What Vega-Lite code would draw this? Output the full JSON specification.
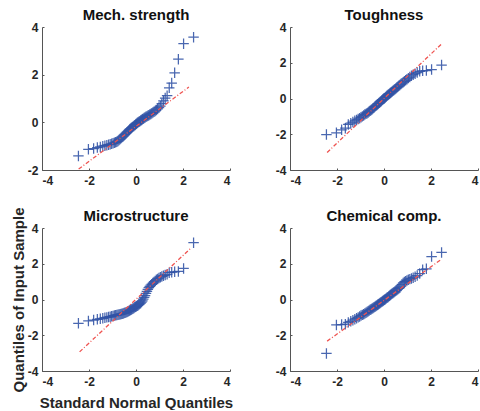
{
  "$schema": "https://vega.github.io/schema/vega-lite/v6.json",
  "padding": {"left": 11, "top": 8, "right": 0, "bottom": 0},
  "background": "white",
  "datasets": {
    "mech": [
      {"x": -2.450, "y": -1.41}, {"x": -2.025, "y": -1.13}, {"x": -1.803, "y": -1.10}, {"x": -1.645, "y": -1.06}, {"x": -1.519, "y": -1.03},
      {"x": -1.414, "y": -1.00}, {"x": -1.324, "y": -0.98}, {"x": -1.242, "y": -0.96}, {"x": -1.168, "y": -0.94}, {"x": -1.099, "y": -0.92},
      {"x": -1.036, "y": -0.90}, {"x": -0.977, "y": -0.88}, {"x": -0.921, "y": -0.86}, {"x": -0.867, "y": -0.84}, {"x": -0.816, "y": -0.81},
      {"x": -0.767, "y": -0.78}, {"x": -0.720, "y": -0.74}, {"x": -0.674, "y": -0.70}, {"x": -0.630, "y": -0.66}, {"x": -0.587, "y": -0.62},
      {"x": -0.545, "y": -0.58}, {"x": -0.504, "y": -0.54}, {"x": -0.464, "y": -0.50}, {"x": -0.424, "y": -0.46}, {"x": -0.385, "y": -0.42},
      {"x": -0.347, "y": -0.38}, {"x": -0.309, "y": -0.34}, {"x": -0.272, "y": -0.30}, {"x": -0.235, "y": -0.27}, {"x": -0.198, "y": -0.24},
      {"x": -0.162, "y": -0.21}, {"x": -0.126, "y": -0.18}, {"x": -0.090, "y": -0.15}, {"x": -0.054, "y": -0.12}, {"x": -0.018, "y": -0.09},
      {"x": 0.018, "y": -0.06}, {"x": 0.054, "y": -0.03}, {"x": 0.090, "y": 0.00}, {"x": 0.126, "y": 0.02}, {"x": 0.162, "y": 0.05},
      {"x": 0.198, "y": 0.08}, {"x": 0.235, "y": 0.10}, {"x": 0.272, "y": 0.13}, {"x": 0.309, "y": 0.15}, {"x": 0.347, "y": 0.18},
      {"x": 0.385, "y": 0.20}, {"x": 0.424, "y": 0.23}, {"x": 0.464, "y": 0.25}, {"x": 0.504, "y": 0.28}, {"x": 0.545, "y": 0.30},
      {"x": 0.587, "y": 0.33}, {"x": 0.630, "y": 0.35}, {"x": 0.674, "y": 0.38}, {"x": 0.720, "y": 0.41}, {"x": 0.767, "y": 0.44},
      {"x": 0.816, "y": 0.48}, {"x": 0.867, "y": 0.52}, {"x": 0.921, "y": 0.56}, {"x": 0.977, "y": 0.62}, {"x": 1.036, "y": 0.68},
      {"x": 1.099, "y": 0.78}, {"x": 1.168, "y": 0.90}, {"x": 1.242, "y": 1.02}, {"x": 1.324, "y": 1.12}, {"x": 1.414, "y": 1.45},
      {"x": 1.519, "y": 1.65}, {"x": 1.645, "y": 2.08}, {"x": 1.803, "y": 2.65}, {"x": 2.025, "y": 3.30}, {"x": 2.450, "y": 3.57}
    ],
    "tough": [
      {"x": -2.450, "y": -2.02}, {"x": -2.025, "y": -1.92}, {"x": -1.803, "y": -1.75}, {"x": -1.645, "y": -1.66}, {"x": -1.519, "y": -1.45},
      {"x": -1.414, "y": -1.38}, {"x": -1.324, "y": -1.32}, {"x": -1.242, "y": -1.25}, {"x": -1.168, "y": -1.20}, {"x": -1.099, "y": -1.15},
      {"x": -1.036, "y": -1.10}, {"x": -0.977, "y": -1.05}, {"x": -0.921, "y": -1.00}, {"x": -0.867, "y": -0.95}, {"x": -0.816, "y": -0.90},
      {"x": -0.767, "y": -0.86}, {"x": -0.720, "y": -0.82}, {"x": -0.674, "y": -0.78}, {"x": -0.630, "y": -0.73}, {"x": -0.587, "y": -0.68},
      {"x": -0.545, "y": -0.64}, {"x": -0.504, "y": -0.60}, {"x": -0.464, "y": -0.55}, {"x": -0.424, "y": -0.50}, {"x": -0.385, "y": -0.45},
      {"x": -0.347, "y": -0.41}, {"x": -0.309, "y": -0.37}, {"x": -0.272, "y": -0.32}, {"x": -0.235, "y": -0.28}, {"x": -0.198, "y": -0.24},
      {"x": -0.162, "y": -0.19}, {"x": -0.126, "y": -0.15}, {"x": -0.090, "y": -0.10}, {"x": -0.054, "y": -0.06}, {"x": -0.018, "y": -0.02},
      {"x": 0.018, "y": 0.02}, {"x": 0.054, "y": 0.06}, {"x": 0.090, "y": 0.10}, {"x": 0.126, "y": 0.15}, {"x": 0.162, "y": 0.19},
      {"x": 0.198, "y": 0.23}, {"x": 0.235, "y": 0.27}, {"x": 0.272, "y": 0.31}, {"x": 0.309, "y": 0.35}, {"x": 0.347, "y": 0.39},
      {"x": 0.385, "y": 0.43}, {"x": 0.424, "y": 0.47}, {"x": 0.464, "y": 0.52}, {"x": 0.504, "y": 0.56}, {"x": 0.545, "y": 0.61},
      {"x": 0.587, "y": 0.66}, {"x": 0.630, "y": 0.71}, {"x": 0.674, "y": 0.76}, {"x": 0.720, "y": 0.81}, {"x": 0.767, "y": 0.86},
      {"x": 0.816, "y": 0.91}, {"x": 0.867, "y": 0.96}, {"x": 0.921, "y": 1.02}, {"x": 0.977, "y": 1.08}, {"x": 1.036, "y": 1.14},
      {"x": 1.099, "y": 1.20}, {"x": 1.168, "y": 1.27}, {"x": 1.242, "y": 1.33}, {"x": 1.324, "y": 1.39}, {"x": 1.414, "y": 1.45},
      {"x": 1.519, "y": 1.52}, {"x": 1.645, "y": 1.55}, {"x": 1.803, "y": 1.56}, {"x": 2.025, "y": 1.62}, {"x": 2.450, "y": 1.87}
    ],
    "micro": [
      {"x": -2.450, "y": -1.33}, {"x": -2.025, "y": -1.20}, {"x": -1.803, "y": -1.15}, {"x": -1.645, "y": -1.11}, {"x": -1.519, "y": -1.08},
      {"x": -1.414, "y": -1.05}, {"x": -1.324, "y": -1.02}, {"x": -1.242, "y": -1.00}, {"x": -1.168, "y": -0.98}, {"x": -1.099, "y": -0.96},
      {"x": -1.036, "y": -0.94}, {"x": -0.977, "y": -0.92}, {"x": -0.921, "y": -0.90}, {"x": -0.867, "y": -0.88}, {"x": -0.816, "y": -0.87},
      {"x": -0.767, "y": -0.85}, {"x": -0.720, "y": -0.84}, {"x": -0.674, "y": -0.83}, {"x": -0.630, "y": -0.81}, {"x": -0.587, "y": -0.80},
      {"x": -0.545, "y": -0.78}, {"x": -0.504, "y": -0.76}, {"x": -0.464, "y": -0.74}, {"x": -0.424, "y": -0.72}, {"x": -0.385, "y": -0.70},
      {"x": -0.347, "y": -0.67}, {"x": -0.309, "y": -0.65}, {"x": -0.272, "y": -0.62}, {"x": -0.235, "y": -0.59}, {"x": -0.198, "y": -0.56},
      {"x": -0.162, "y": -0.53}, {"x": -0.126, "y": -0.50}, {"x": -0.090, "y": -0.47}, {"x": -0.054, "y": -0.44}, {"x": -0.018, "y": -0.41},
      {"x": 0.018, "y": -0.38}, {"x": 0.054, "y": -0.35}, {"x": 0.090, "y": -0.32}, {"x": 0.126, "y": -0.28}, {"x": 0.162, "y": -0.24},
      {"x": 0.198, "y": -0.20}, {"x": 0.235, "y": -0.14}, {"x": 0.272, "y": -0.07}, {"x": 0.309, "y": 0.02}, {"x": 0.347, "y": 0.12},
      {"x": 0.385, "y": 0.22}, {"x": 0.424, "y": 0.34}, {"x": 0.464, "y": 0.46}, {"x": 0.504, "y": 0.57}, {"x": 0.545, "y": 0.66},
      {"x": 0.587, "y": 0.74}, {"x": 0.630, "y": 0.80}, {"x": 0.674, "y": 0.86}, {"x": 0.720, "y": 0.92}, {"x": 0.767, "y": 0.98},
      {"x": 0.816, "y": 1.04}, {"x": 0.867, "y": 1.10}, {"x": 0.921, "y": 1.15}, {"x": 0.977, "y": 1.20}, {"x": 1.036, "y": 1.25},
      {"x": 1.099, "y": 1.29}, {"x": 1.168, "y": 1.33}, {"x": 1.242, "y": 1.37}, {"x": 1.324, "y": 1.41}, {"x": 1.414, "y": 1.50},
      {"x": 1.519, "y": 1.53}, {"x": 1.645, "y": 1.55}, {"x": 1.803, "y": 1.57}, {"x": 2.025, "y": 1.74}, {"x": 2.450, "y": 3.18}
    ],
    "chem": [
      {"x": -2.450, "y": -3.02}, {"x": -2.025, "y": -1.42}, {"x": -1.803, "y": -1.40}, {"x": -1.645, "y": -1.38}, {"x": -1.519, "y": -1.28},
      {"x": -1.414, "y": -1.22}, {"x": -1.324, "y": -1.16}, {"x": -1.242, "y": -1.10}, {"x": -1.168, "y": -1.05}, {"x": -1.099, "y": -1.00},
      {"x": -1.036, "y": -0.95}, {"x": -0.977, "y": -0.90}, {"x": -0.921, "y": -0.86}, {"x": -0.867, "y": -0.82}, {"x": -0.816, "y": -0.78},
      {"x": -0.767, "y": -0.74}, {"x": -0.720, "y": -0.70}, {"x": -0.674, "y": -0.66}, {"x": -0.630, "y": -0.62}, {"x": -0.587, "y": -0.58},
      {"x": -0.545, "y": -0.55}, {"x": -0.504, "y": -0.51}, {"x": -0.464, "y": -0.48}, {"x": -0.424, "y": -0.44}, {"x": -0.385, "y": -0.40},
      {"x": -0.347, "y": -0.37}, {"x": -0.309, "y": -0.33}, {"x": -0.272, "y": -0.30}, {"x": -0.235, "y": -0.26}, {"x": -0.198, "y": -0.22},
      {"x": -0.162, "y": -0.19}, {"x": -0.126, "y": -0.15}, {"x": -0.090, "y": -0.12}, {"x": -0.054, "y": -0.08}, {"x": -0.018, "y": -0.05},
      {"x": 0.018, "y": -0.01}, {"x": 0.054, "y": 0.02}, {"x": 0.090, "y": 0.06}, {"x": 0.126, "y": 0.10}, {"x": 0.162, "y": 0.13},
      {"x": 0.198, "y": 0.17}, {"x": 0.235, "y": 0.21}, {"x": 0.272, "y": 0.25}, {"x": 0.309, "y": 0.29}, {"x": 0.347, "y": 0.33},
      {"x": 0.385, "y": 0.37}, {"x": 0.424, "y": 0.41}, {"x": 0.464, "y": 0.45}, {"x": 0.504, "y": 0.49}, {"x": 0.545, "y": 0.53},
      {"x": 0.587, "y": 0.58}, {"x": 0.630, "y": 0.62}, {"x": 0.674, "y": 0.66}, {"x": 0.720, "y": 0.75}, {"x": 0.767, "y": 0.85},
      {"x": 0.816, "y": 0.93}, {"x": 0.867, "y": 0.98}, {"x": 0.921, "y": 1.02}, {"x": 0.977, "y": 1.06}, {"x": 1.036, "y": 1.10},
      {"x": 1.099, "y": 1.14}, {"x": 1.168, "y": 1.18}, {"x": 1.242, "y": 1.22}, {"x": 1.324, "y": 1.27}, {"x": 1.414, "y": 1.34},
      {"x": 1.519, "y": 1.45}, {"x": 1.645, "y": 1.67}, {"x": 1.803, "y": 1.72}, {"x": 2.025, "y": 2.40}, {"x": 2.450, "y": 2.63}
    ],
    "ref": [
      {"panel": "mech", "x": -2.44, "y": -1.96}, {"panel": "mech", "x": 2.25, "y": 1.48},
      {"panel": "tough", "x": -2.42, "y": -3.02}, {"panel": "tough", "x": 2.43, "y": 3.03},
      {"panel": "micro", "x": -2.40, "y": -2.93}, {"panel": "micro", "x": 2.30, "y": 2.83},
      {"panel": "chem", "x": -2.42, "y": -2.33}, {"panel": "chem", "x": 2.43, "y": 2.24}
    ]
  },
  "columns": 2,
  "bounds": "flush",
  "spacing": {"row": 58, "column": 60},
  "concat": [
    {
      "title": {"text": "Mech. strength", "dy": 9},
      "width": 188, "height": 143,
      "encoding": {
        "x": {"field": "x", "type": "quantitative", "scale": {"domain": [-4, 4], "nice": false, "zero": false}, "axis": {"values": [-4, -2, 0, 2, 4], "title": null}},
        "y": {"field": "y", "type": "quantitative", "scale": {"domain": [-2, 4], "nice": false, "zero": false}, "axis": {"values": [-2, 0, 2, 4], "title": null}}
      },
      "layer": [
        {"data": {"name": "mech"}, "mark": {"type": "point", "shape": "M-1,0L1,0M0,-1L0,1", "filled": false, "size": 110, "strokeWidth": 1.25, "color": "#3153A6", "opacity": 0.88}},
        {"data": {"name": "ref"}, "transform": [{"filter": "datum.panel === 'mech'"}], "mark": {"type": "line", "color": "#EF5350", "strokeWidth": 1.3, "strokeDash": [4, 2, 1, 2]}}
      ]
    },
    {
      "title": {"text": "Toughness", "dy": 9},
      "width": 188, "height": 143,
      "encoding": {
        "x": {"field": "x", "type": "quantitative", "scale": {"domain": [-4, 4], "nice": false, "zero": false}, "axis": {"values": [-4, -2, 0, 2, 4], "title": null}},
        "y": {"field": "y", "type": "quantitative", "scale": {"domain": [-4, 4], "nice": false, "zero": false}, "axis": {"values": [-4, -2, 0, 2, 4], "title": null}}
      },
      "layer": [
        {"data": {"name": "tough"}, "mark": {"type": "point", "shape": "M-1,0L1,0M0,-1L0,1", "filled": false, "size": 110, "strokeWidth": 1.25, "color": "#3153A6", "opacity": 0.88}},
        {"data": {"name": "ref"}, "transform": [{"filter": "datum.panel === 'tough'"}], "mark": {"type": "line", "color": "#EF5350", "strokeWidth": 1.3, "strokeDash": [4, 2, 1, 2]}}
      ]
    },
    {
      "title": {"text": "Microstructure", "dy": 24},
      "width": 188, "height": 143,
      "encoding": {
        "x": {"field": "x", "type": "quantitative", "scale": {"domain": [-4, 4], "nice": false, "zero": false}, "axis": {"values": [-4, -2, 0, 2, 4], "title": "Standard Normal Quantiles", "titlePadding": 8}},
        "y": {"field": "y", "type": "quantitative", "scale": {"domain": [-4, 4], "nice": false, "zero": false}, "axis": {"values": [-4, -2, 0, 2, 4], "title": "Quantiles of Input Sample", "titlePadding": 1}}
      },
      "layer": [
        {"data": {"name": "micro"}, "mark": {"type": "point", "shape": "M-1,0L1,0M0,-1L0,1", "filled": false, "size": 110, "strokeWidth": 1.25, "color": "#3153A6", "opacity": 0.88}},
        {"data": {"name": "ref"}, "transform": [{"filter": "datum.panel === 'micro'"}], "mark": {"type": "line", "color": "#EF5350", "strokeWidth": 1.3, "strokeDash": [4, 2, 1, 2]}}
      ]
    },
    {
      "title": {"text": "Chemical comp.", "dy": 9},
      "width": 188, "height": 143,
      "encoding": {
        "x": {"field": "x", "type": "quantitative", "scale": {"domain": [-4, 4], "nice": false, "zero": false}, "axis": {"values": [-4, -2, 0, 2, 4], "title": null}},
        "y": {"field": "y", "type": "quantitative", "scale": {"domain": [-4, 4], "nice": false, "zero": false}, "axis": {"values": [-4, -2, 0, 2, 4], "title": null}}
      },
      "layer": [
        {"data": {"name": "chem"}, "mark": {"type": "point", "shape": "M-1,0L1,0M0,-1L0,1", "filled": false, "size": 110, "strokeWidth": 1.25, "color": "#3153A6", "opacity": 0.88}},
        {"data": {"name": "ref"}, "transform": [{"filter": "datum.panel === 'chem'"}], "mark": {"type": "line", "color": "#EF5350", "strokeWidth": 1.3, "strokeDash": [4, 2, 1, 2]}}
      ]
    }
  ],
  "config": {
    "font": "Liberation Sans",
    "view": {"stroke": null},
    "axis": {
      "grid": false,
      "domainColor": "#555555",
      "domainWidth": 1,
      "ticks": true,
      "tickSize": -2,
      "tickColor": "#555555",
      "labelExpr": "'' + datum.value",
      "labelFont": "Liberation Sans",
      "labelFontSize": 12,
      "labelFontWeight": "bold",
      "labelColor": "#262626",
      "labelPadding": 6,
      "titleFont": "Liberation Sans",
      "titleFontSize": 15,
      "titleFontWeight": "bold",
      "titleColor": "#262626",
      "titlePadding": 4
    },
    "axisX": {"labelPadding": 7},
    "title": {
      "font": "Liberation Sans",
      "fontSize": 15,
      "fontWeight": "bold",
      "color": "#111111",
      "offset": 7
    }
  }
}
